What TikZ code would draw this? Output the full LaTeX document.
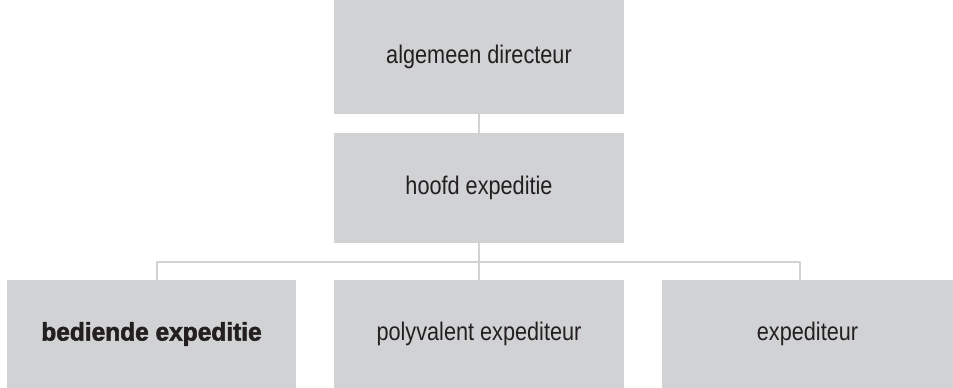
\documentclass[tikz,border=0pt]{standalone}
\usepackage{fontspec}
\setmainfont{Liberation Sans}
\newfontfamily\boxfont[FakeStretch=0.85]{Liberation Sans}
\newfontfamily\heavyfont[BoldFeatures={FakeBold=2,FakeStretch=0.96}]{Liberation Sans}
\definecolor{boxgray}{HTML}{D1D2D4}
\definecolor{txt}{HTML}{231F20}
\begin{document}
\begin{tikzpicture}[x=1pt,y=-1pt,
  orgbox/.style={fill=boxgray,draw=none,inner sep=0pt,text=txt,
    minimum width=290pt,minimum height=#1,font=\boxfont\fontsize{25.5}{30}\selectfont},
  orgbox/.default=110pt,
  link/.style={draw=boxgray,line width=2.8pt,line join=round,line cap=round}]
\useasboundingbox (0,0) rectangle (953,388);
\node[orgbox=114pt] (dir) at (479,57) {algemeen directeur};
\node[orgbox=110pt] (hoofd) at (479,188) {hoofd expeditie};
\node[orgbox=108pt,minimum width=289pt,font=\heavyfont\bfseries\fontsize{25.5}{30}\selectfont] (bed) at (151.5,334) {bediende expeditie};
\node[orgbox=108pt] (poly) at (479,334) {polyvalent expediteur};
\node[orgbox=108pt,minimum width=291pt] (exp) at (807.5,334) {expediteur};
\coordinate (bus) at (479,262);
\draw[link] (dir.south) -- (hoofd.north);
\draw[link] (hoofd.south) -- (bus);
\draw[link] (bed.north -| 157,0) |- (bus) -| (exp.north -| 800,0);
\draw[link] (bus) -- (poly.north);
\end{tikzpicture}
\end{document}
